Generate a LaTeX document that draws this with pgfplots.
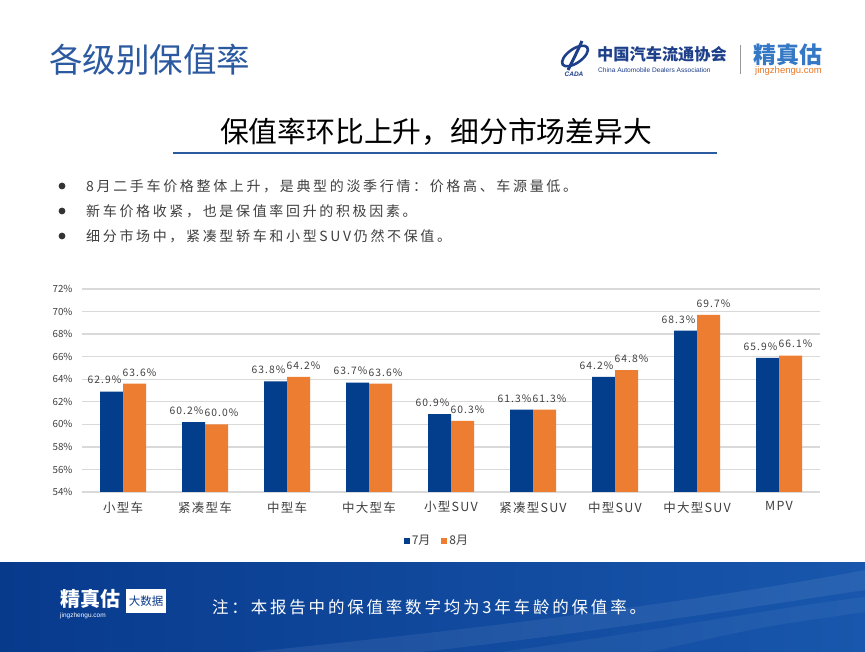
\documentclass[border=0pt]{standalone}
\usepackage{fontspec}
\setmainfont{Noto Sans CJK SC}
\newfontfamily\cjkA[LetterSpace=19]{Noto Sans CJK SC}
\newfontfamily\cjkB[LetterSpace=17]{Noto Sans CJK SC}
\newfontfamily\cjkC[LetterSpace=10]{Noto Sans CJK SC}
\newfontfamily\latin{Liberation Sans}
\usepackage{pgfplots}
\pgfplotsset{compat=1.18}
\definecolor{jul}{HTML}{023E8C}
\definecolor{aug}{HTML}{ED7D31}
\definecolor{titleblue}{HTML}{2C5AA0}
\definecolor{gridc}{HTML}{D9D9D9}
\definecolor{txt}{HTML}{404040}
\definecolor{logoblue}{HTML}{1E3F8A}
\definecolor{jzgblue}{HTML}{3478C6}
\definecolor{jzgorange}{HTML}{E87722}
\definecolor{footL}{HTML}{083A8C}
\definecolor{footR}{HTML}{1857AD}
\newcommand{\fs}[1]{\fontsize{#1bp}{#1bp}\selectfont}
\begin{document}
\begin{tikzpicture}[x=1bp,y=1bp]
\fill[white] (0,0) rectangle (865,652);
\useasboundingbox (0,0) rectangle (865,652);
% header
\node[anchor=west, inner sep=0, text=titleblue, font=\fs{33.5}] at (49,592) {各级别保值率};
% CADA logo
\begin{scope}[rotate around={35:(575,596)}]
\draw[logoblue, line width=2.6bp] (575,596) ellipse (15bp and 7bp);
\end{scope}
\draw[logoblue, line width=3bp] (582,611) .. controls (576,598) .. (568,582);
\node[text=logoblue, font=\latin\bfseries\itshape\fs{6.5}, inner sep=0] at (574,578) {CADA};
\node[anchor=west, inner sep=0, text=logoblue, font=\bfseries\fs{16.2}] at (597,598) {中国汽车流通协会};
\node[anchor=west, inner sep=0, text=logoblue, font=\latin\fs{6.6}] at (598,582) {China Automobile Dealers Association};
\draw[gray!80, line width=0.8bp] (740,578) -- (740,607);
\node[anchor=west, inner sep=0, text=jzgblue, font=\bfseries\fs{23}] at (753,597) {精真估};
\node[anchor=west, inner sep=0, text=jzgorange, font=\latin\fs{9.5}] at (755,581) {jingzhengu.com};
% subtitle
\node[inner sep=0, text=black, font=\fs{28.8}] at (436,520) {保值率环比上升，细分市场差异大};
\draw[titleblue, line width=2.6bp] (173,499) -- (717,499);
% bullets
\foreach \yy/\tt in {466/{8月二手车价格整体上升，是典型的淡季行情：价格高、车源量低。},441/{新车价格收紧，也是保值率回升的积极因素。},416/{细分市场中，紧凑型轿车和小型SUV仍然不保值。}}{
  \fill[black!80] (62,\yy) circle (3.4bp);
  \node[anchor=west, inner sep=0, text=txt, font=\cjkA\fs{14}] at (86,\yy) {\tt};
}
% chart
\begin{axis}[
  at={(82bp,160bp)}, anchor=south west,
  scale only axis, width=738bp, height=203bp,
  ybar=0pt, bar width=23bp,
  xmin=-0.5, xmax=8.5, ymin=54, ymax=72,
  xtick={0,...,8},
  xticklabels={小型车,紧凑型车,中型车,中大型车,小型SUV,紧凑型SUV,中型SUV,中大型SUV,MPV},
  ytick={54,56,...,72},
  yticklabels={54\%,56\%,58\%,60\%,62\%,64\%,66\%,68\%,70\%,72\%},
  ymajorgrids, grid style={draw=gridc, line width=1.3bp},
  axis line style={draw=none}, major tick length=0pt,
  tick label style={text=txt},
  yticklabel style={font=\fs{9.8}, xshift=-6bp},
  xticklabel style={font=\cjkC\fs{12.5}, yshift=-6bp},
  /pgf/number format/assume math mode=true,
  nodes near coords={\pgfmathprintnumber[fixed,fixed zerofill,precision=1]{\pgfplotspointmeta}\%},
  every node near coord/.append style={font=\cjkC\fs{10.3}, text=txt, yshift=4bp},
  legend style={at={(0.481,-0.241)}, anchor=center, draw=none, fill=none,
    legend columns=2, font=\fs{12}, text=txt,
    /tikz/every even column/.append style={column sep=9bp}},
  legend image code/.code={\fill[#1] (0bp,-3bp) rectangle (6bp,3bp);},
]
\addplot[fill=jul, draw=none, every node near coord/.append style={xshift=-7bp}] coordinates {(0,62.9) (1,60.2) (2,63.8) (3,63.7) (4,60.9) (5,61.3) (6,64.2) (7,68.3) (8,65.9)};
\addplot[fill=aug, draw=none, every node near coord/.append style={xshift=5bp}] coordinates {(0,63.6) (1,60.0) (2,64.2) (3,63.6) (4,60.3) (5,61.3) (6,64.8) (7,69.7) (8,66.1)};
\legend{7月,8月}
\end{axis}
% footer
\shade[left color=footL, right color=footR] (0,0) rectangle (865,89);
\fill[white, opacity=0.07] (250,0) .. controls (550,30) and (750,60) .. (865,82) -- (865,62) .. controls (720,40) and (560,15) .. (420,0) -- cycle;
\fill[white, opacity=0.05] (500,0) .. controls (650,20) and (780,45) .. (865,55) -- (865,40) .. controls (760,25) .. (650,0) -- cycle;
\node[anchor=west, inner sep=0, text=white, font=\bfseries\fs{20}] at (60,53) {精真估};
\node[anchor=west, inner sep=0, text=white, font=\latin\fs{6.5}] at (60,36) {jingzhengu.com};
\fill[white] (126,39) rectangle (166,63);
\node[inner sep=0, text=footL, font=\fs{11.5}] at (146,51) {大数据};
\node[anchor=west, inner sep=0, text=white, font=\cjkB\fs{16.5}] at (212,45) {注：本报告中的保值率数字均为3年车龄的保值率。};
\end{tikzpicture}
\end{document}
